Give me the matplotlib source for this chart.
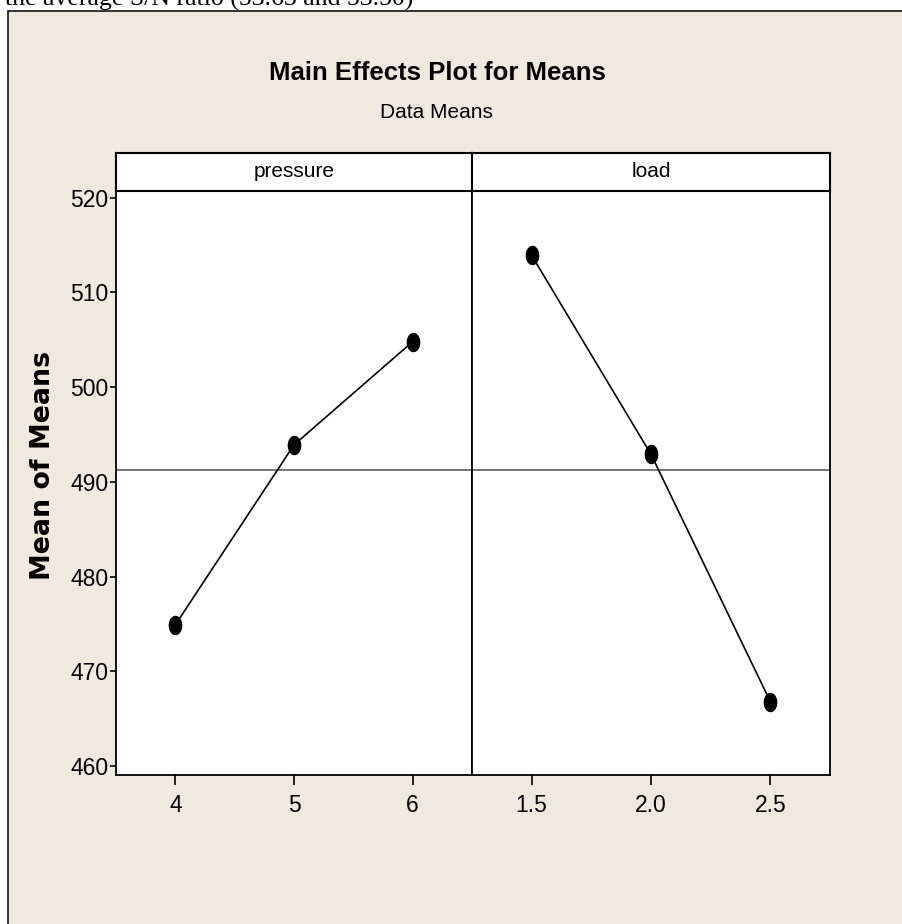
import numpy as np
import matplotlib
matplotlib.use('Agg')
import matplotlib.pyplot as plt
from matplotlib.patches import Rectangle

# Main effects data
factors = ['pressure', 'load']
pressure_levels = ['4', '5', '6']
pressure_means = [474.9, 493.9, 504.8]
load_levels = ['1.5', '2.0', '2.5']
load_means = [513.9, 492.9, 466.8]
y_ticks = [460, 470, 480, 490, 500, 510, 520]

W, H = 902, 924
BEIGE = '#EEEAE0'
NARROW = 'Liberation Sans'

def fx(px):
    return px / W

def fy(py):
    return 1 - py / H

fig = plt.figure(figsize=(W / 100, H / 100), dpi=100, facecolor='white')

# cut-off line of document text above the graph
fig.text(fx(413), fy(6), 'the average S/N ratio (53.63 and 53.50)', ha='right', va='baseline',
         family='Liberation Serif', fontsize=18.5, color='black')

# Minitab-style beige graph region
fig.add_artist(Rectangle((fx(8), -0.05), 1.2, fy(11) + 0.05, transform=fig.transFigure,
                         facecolor=BEIGE, edgecolor='black', linewidth=1.1, zorder=0))

fig.text(fx(437), fy(73), 'Main Effects Plot for Means', ha='center', va='center',
         family=NARROW, fontsize=18.5, fontweight='bold')
fig.text(fx(436), fy(113), 'Data Means', ha='center', va='center', family=NARROW, fontsize=15)
fig.text(fx(43), fy(465), 'Mean of Means', ha='center', va='center', rotation=90,
         family='DejaVu Sans', fontsize=19.4, fontweight='bold')

# ellipse marker like Minitab's dots
t = np.linspace(0, 2 * np.pi, 41)
ellipse = list(zip(0.68 * np.cos(t), np.sin(t)))

grand_mean = np.mean(pressure_means + load_means)

panels = [
    (pressure_levels, pressure_means, 116, 472),
    (load_levels, load_means, 472, 830),
]
ax_top, ax_bot, strip_top = 191, 775, 152.7

for i, (levels, means, x0, x1) in enumerate(panels):
    ax = fig.add_axes([fx(x0), fy(ax_bot), (x1 - x0) / W, (ax_bot - ax_top) / H])
    ax.set_facecolor('white')
    pos = np.arange(len(levels))
    ax.plot(pos, means, color='black', linewidth=1.2, marker=ellipse, markersize=13,
            markerfacecolor='black', markeredgecolor='black', zorder=3)
    ax.axhline(grand_mean, color='#6a6a6a', linewidth=1.3, zorder=2)
    ax.set_xlim(-0.5, 2.5)
    ax.set_ylim(459.05, 520.7)
    ax.set_xticks(pos)
    ax.set_xticklabels(levels, family=NARROW, fontsize=16.5)
    ax.tick_params(axis='x', direction='out', length=7, width=1.2, pad=7)
    if i == 0:
        ax.set_yticks(y_ticks)
        ax.set_yticklabels([str(v) for v in y_ticks], family=NARROW, fontsize=16.5)
        ax.tick_params(axis='y', direction='out', length=4.5, width=1.2, pad=1)
    else:
        ax.set_yticks([])
    for side in ['left', 'right', 'top', 'bottom']:
        ax.spines[side].set_linewidth(1.3)
        ax.spines[side].set_color('black')

    # facet strip
    sax = fig.add_axes([fx(x0), fy(ax_top), (x1 - x0) / W, (ax_top - strip_top) / H])
    sax.set_facecolor('white')
    sax.set_xticks([])
    sax.set_yticks([])
    for side in ['left', 'right', 'top', 'bottom']:
        sax.spines[side].set_linewidth(1.5)
    sax.text(0.5, 0.5, factors[i], ha='center', va='center', family=NARROW, fontsize=15,
             transform=sax.transAxes)

fig.savefig('out.png', dpi=100, facecolor='white')
